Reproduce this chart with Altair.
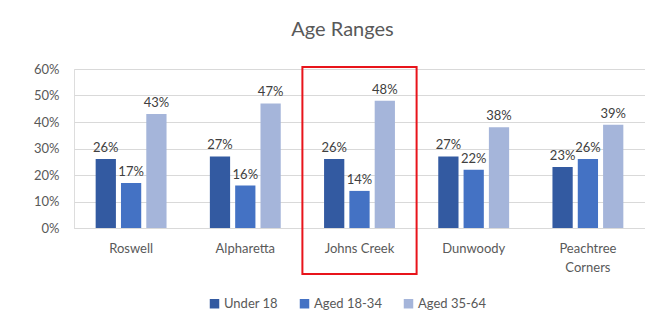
import altair as alt
import pandas as pd

cities = ["Roswell", "Alpharetta", "Johns Creek", "Dunwoody", "Peachtree Corners"]
groups = ["Under 18", "Aged 18-34", "Aged 35-64"]
under18 = [26, 27, 26, 27, 23]
aged18_34 = [17, 16, 14, 22, 26]
aged35_64 = [43, 47, 48, 38, 39]
colors = ["#335AA1", "#4472C4", "#A5B5DA"]
y_ticks = [0, 10, 20, 30, 40, 50, 60]
highlight_city = ["Johns Creek"]
highlight_top = [60.8]
highlight_bottom = [-17.4]

rows = []
for i, c in enumerate(cities):
    for g, vals in zip(groups, [under18, aged18_34, aged35_64]):
        rows.append({"city": c, "group": g, "value": vals[i], "label": f"{vals[i]}%"})
df = pd.DataFrame(rows)

hl = pd.DataFrame({"city": highlight_city, "value": highlight_top, "bottom": highlight_bottom})

FONT = "Lato"
TXT = "#595959"

x_enc = alt.X(
    "city:N",
    sort=cities,
    title=None,
    scale=alt.Scale(paddingInner=0.335, paddingOuter=0.1675),
    axis=alt.Axis(
        labelAngle=0,
        labelFontSize=13,
        labelColor=TXT,
        labelFont=FONT,
        ticks=False,
        domain=True,
        domainColor="#D9D9D9",
        labelPadding=14,
        labelExpr="datum.value == 'Peachtree Corners' ? ['Peachtree', 'Corners'] : datum.value",
        labelLineHeight=19,
    ),
)
y_axis = alt.Axis(
    values=y_ticks,
    labelExpr="datum.value + '%'",
    labelFontSize=13,
    labelColor=TXT,
    labelFont=FONT,
    ticks=False,
    domain=False,
    gridColor="#D9D9D9",
    gridWidth=1,
    labelPadding=15,
)
y_scale = alt.Scale(domain=[0, 60], nice=False)
xo = alt.XOffset("group:N", sort=groups, scale=alt.Scale(paddingInner=0.2, paddingOuter=0.1))

bars = alt.Chart(df).mark_bar().encode(
    x=x_enc,
    xOffset=xo,
    y=alt.Y("value:Q", title=None, scale=y_scale, axis=y_axis),
    color=alt.Color(
        "group:N",
        sort=groups,
        scale=alt.Scale(domain=groups, range=colors),
        legend=alt.Legend(
            title=None,
            orient="none",
            legendX=134,
            legendY=228,
            direction="horizontal",
            symbolType="square",
            symbolSize=90,
            symbolStrokeWidth=0,
            labelFontSize=13,
            labelColor=TXT,
            labelFont=FONT,
            columnPadding=20,
            labelOffset=3,
        ),
    ),
)

labels = alt.Chart(df).mark_text(
    baseline="bottom", dy=-4, fontSize=13, color="#404040", font=FONT
).encode(
    x=alt.X("city:N", sort=cities),
    xOffset=xo,
    y=alt.Y("value:Q", title=None, scale=y_scale, axis=y_axis),
    text="label:N",
)

main = alt.layer(bars, labels)

box = alt.Chart(hl).mark_rect(
    fill=None, stroke="#E8141B", strokeWidth=2, clip=False
).encode(
    x=alt.X("city:N", scale=alt.Scale(domain=cities, paddingInner=0, paddingOuter=0), axis=None),
    y=alt.Y("value:Q", title=None, scale=y_scale, axis=y_axis),
    y2="bottom:Q",
)

chart = alt.layer(main, box).resolve_scale(x="independent").properties(
    width=571,
    height=159,
    autosize=alt.AutoSizeParams(type="none"),
    padding={"left": 66, "top": 61, "right": 0, "bottom": 95},
    title=alt.TitleParams(
        "Age Ranges", fontSize=20, font=FONT, color=TXT, fontWeight="normal",
        anchor="middle", dx=-17, offset=23,
    ),
).configure_view(stroke=None).configure(background="white")

chart.save("out.html", embed_options={"renderer": "svg", "actions": False})
